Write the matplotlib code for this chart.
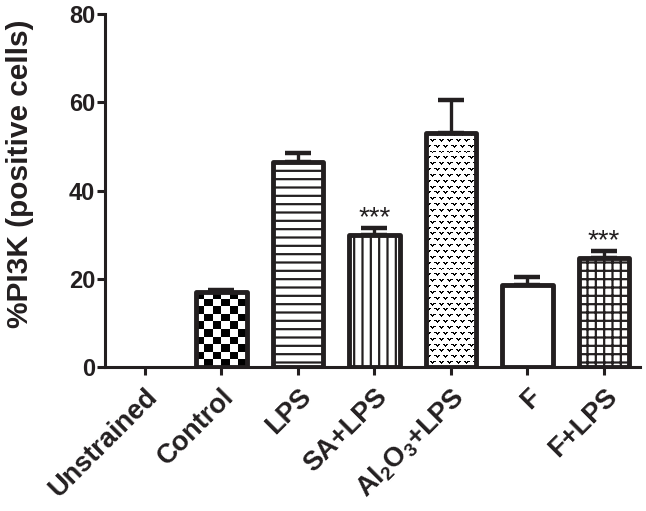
import matplotlib
matplotlib.use("Agg")
import matplotlib.pyplot as plt
import numpy as np

plt.rcParams["font.family"] = ["Liberation Sans", "DejaVu Sans"]
plt.rcParams["font.weight"] = "bold"
plt.rcParams["mathtext.fontset"] = "custom"
plt.rcParams["mathtext.rm"] = "Liberation Sans:bold"
plt.rcParams["mathtext.default"] = "rm"

# data
groups = ["Unstrained", "Control", "LPS", "SA+LPS", r"Al$_2$O$_3$+LPS", "F", "F+LPS"]
means = [0.0, 17.0, 46.5, 30.0, 53.0, 18.5, 24.8]
sem = [0.0, 0.5, 2.0, 1.5, 7.5, 2.0, 1.5]
stars = ["", "", "", "***", "", "", "***"]
hatches = [None, None, "--", "||", None, None, "++"]

INK = "#231f20"
plt.rcParams["hatch.color"] = INK
plt.rcParams["hatch.linewidth"] = 1.6

fig = plt.figure(figsize=(6.46, 5.11), dpi=100)
ax = fig.add_axes([0.1625, 0.2818, 0.8282, 0.6908])

x = np.arange(len(groups))
width = 0.66
bars = ax.bar(x, means, width, color="white", edgecolor=INK, linewidth=3.5,
              zorder=2)
for b, h in zip(bars, hatches):
    b.set_joinstyle("round")
    if h:
        b.set_hatch(h)
bars[0].set_visible(False)


def texture(bar, img):
    # fill a bar with a pixel pattern, clipped to the bar outline
    bar.set_facecolor("none")
    im = ax.imshow(img, cmap="gray", vmin=0, vmax=1,
                   extent=(bar.get_x(), bar.get_x() + bar.get_width(), 0, bar.get_height()),
                   aspect="auto", interpolation="nearest", zorder=1.9)
    im.set_clip_path(bar)


# checkerboard for Control
checker = (np.add.outer(np.arange(10), np.arange(6)) % 2).astype(float)
texture(bars[1], checker)

# small "v" marks for Al2O3+LPS
tile = np.ones((12, 8))
for r0, c0 in [(0, 0), (6, 4)]:
    for dc in (0, 1, 3, 4):
        tile[r0, (c0 + dc) % 8] = 0
    for dc in (1, 2, 3):
        tile[r0 + 1, (c0 + dc) % 8] = 0
    tile[r0 + 2, (c0 + 2) % 8] = 0
texture(bars[4], np.tile(tile, (20, 6)))

err = np.array(sem, dtype=float)
mask = err > 0
ax.errorbar(x[mask], np.array(means)[mask], yerr=[np.zeros(mask.sum()), err[mask]],
            fmt="none", ecolor=INK, elinewidth=2.4, capsize=9.5, capthick=3.2,
            zorder=1.8)

for xi, m, e, s in zip(x, means, sem, stars):
    if s:
        ax.text(xi, m + e + 0.6, s, ha="center", va="baseline", fontsize=20,
                fontweight="normal", color=INK)

ax.set_xlim(-0.52, 6.47)
ax.set_ylim(0, 80)
ax.set_yticks([0, 20, 40, 60, 80])
ax.set_xticks(x)
ax.set_xticklabels(groups, rotation=45, ha="right", va="top",
                   rotation_mode="anchor", fontsize=19.5)
ax.tick_params(axis="y", labelsize=17, length=6, width=2.2, pad=1, colors=INK)
ax.tick_params(axis="x", length=6, width=2.2, pad=6, colors=INK)
for sp in ["top", "right"]:
    ax.spines[sp].set_visible(False)
for sp in ["left", "bottom"]:
    ax.spines[sp].set_linewidth(2.2)
    ax.spines[sp].set_color(INK)

ax.set_ylabel("%PI3K (positive cells)", fontsize=21.5, fontweight="bold", color=INK)
ax.yaxis.set_label_coords(-0.132, 0.547)

fig.savefig("out.png", dpi=100)
